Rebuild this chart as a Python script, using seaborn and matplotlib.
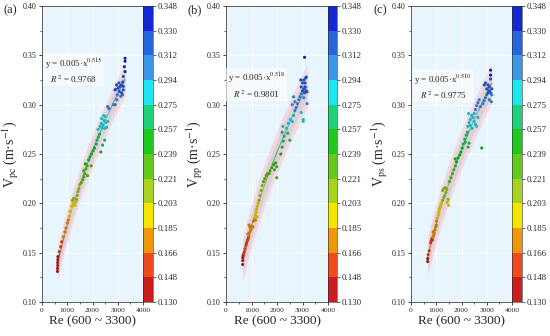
import numpy as np
import matplotlib
matplotlib.use("Agg")
import matplotlib.pyplot as plt
import seaborn as sns
from matplotlib.colors import ListedColormap, BoundaryNorm
from matplotlib.collections import LineCollection
from matplotlib.cm import ScalarMappable
from matplotlib.ticker import MultipleLocator

# ---- data ----
a_re = [610, 615, 620, 620, 625, 630, 685, 740, 780, 845, 910, 950, 1003, 1040, 1083, 1109,
        1180, 1220, 1260, 1200, 1300, 1250, 1340, 1370,
        1400, 1430, 1460, 1500, 1560, 1620, 1660, 1700, 1650, 1740, 1790, 1720, 1850, 1900, 1960, 2020,
        2080, 2150, 2180, 2230, 2280, 2400, 2480, 2330, 1800, 1950,
        2220, 2300, 2350, 2420, 2460, 2520, 2360, 2440, 2500, 2560, 2600, 2380, 2480,
        2600, 2650, 2900, 2830, 2960, 3120, 2980, 3190, 3060, 3150, 2890, 2930, 3020, 3090, 3220, 3150,
        3220, 3220, 3290, 3260, 3290, 3290, 3050, 3200, 2950]
a_v = [0.131, 0.134, 0.137, 0.140, 0.143, 0.146, 0.151, 0.156, 0.161, 0.166, 0.171, 0.175, 0.180, 0.183,
       0.187, 0.192,
       0.197, 0.199, 0.202, 0.203, 0.198, 0.205, 0.201, 0.204,
       0.208, 0.212, 0.215, 0.219, 0.221, 0.224, 0.227, 0.230, 0.233, 0.235, 0.238, 0.240, 0.244, 0.247,
       0.250, 0.253, 0.256, 0.260, 0.264, 0.267, 0.270, 0.259, 0.264, 0.252, 0.228, 0.238,
       0.275, 0.278, 0.281, 0.279, 0.284, 0.282, 0.286, 0.289, 0.288, 0.277, 0.283, 0.276, 0.276,
       0.298, 0.296, 0.300, 0.300, 0.305, 0.3085, 0.310, 0.310, 0.3135, 0.312, 0.315, 0.3155, 0.317, 0.3185,
       0.3185, 0.320, 0.315, 0.3285, 0.3335, 0.3385, 0.344, 0.347, 0.322, 0.323, 0.320]

b_re = [650, 655, 660, 670, 690, 720, 750, 780, 800, 820, 850, 880, 900, 860, 920, 950, 980, 940, 1000, 1050,
        900, 1080, 1120, 1150, 1180, 1200, 1230, 1260, 1300, 1150, 1220, 1330, 1380, 1420, 1470, 1520, 1580,
        1620, 1700, 1730, 1800, 1870, 1950, 1990, 1900, 1990, 2150, 2200, 2250, 2280, 2200, 2230, 2500, 2420,
        2380, 2450, 2520, 2600, 2650, 2700, 2750, 2600, 2700, 2650, 2800, 2850, 2900, 2950, 3000, 3050, 3100,
        2950, 3000, 2930, 3050, 3120, 3150, 3080, 3150, 3180, 3180, 3050, 3030, 3030, 2950, 3080, 3100]
b_v = [0.138, 0.142, 0.145, 0.147, 0.149, 0.151, 0.154, 0.157, 0.159, 0.161, 0.163, 0.165, 0.167, 0.169,
       0.170, 0.172, 0.174, 0.176, 0.177, 0.176, 0.178, 0.182, 0.185, 0.188, 0.191, 0.194, 0.197, 0.200, 0.203,
       0.183, 0.186, 0.208, 0.213, 0.218, 0.222, 0.225, 0.228, 0.230, 0.230, 0.233, 0.236, 0.239, 0.241, 0.237,
       0.234, 0.226, 0.250, 0.257, 0.263, 0.268, 0.272, 0.278, 0.264, 0.271, 0.276, 0.281, 0.285, 0.283, 0.289,
       0.294, 0.297, 0.300, 0.303, 0.308, 0.301, 0.305, 0.308, 0.311, 0.314, 0.316, 0.318, 0.318, 0.322, 0.325,
       0.325, 0.327, 0.328, 0.312, 0.314, 0.313, 0.301, 0.307, 0.285, 0.283, 0.292, 0.348, 0.322]

c_re = [660, 660, 680, 720, 780, 800, 820, 850, 870, 900, 880, 920, 950, 980, 1000, 1010, 1040, 1080, 1100,
        1120, 1150, 1180, 1210, 1250, 1300, 1340, 1380, 1420, 1360, 1440, 1490, 1470, 1300, 1250, 1520, 1580,
        1640, 1700, 1760, 1800, 1860, 1930, 1980, 2030, 2070, 2130, 2190, 2240, 2150, 2300, 2260, 2800, 1750,
        2250, 2300, 2350, 2400, 2450, 2500, 2550, 2600, 2350, 2500, 2650, 2280, 2420, 2550, 2600, 2650, 2700,
        2750, 2850, 2900, 2950, 3000, 3050, 3100, 3150, 3200, 3000, 3050, 3100, 2950, 3150, 2900, 3180, 3100,
        3150, 3150, 3200]
c_v = [0.141, 0.144, 0.148, 0.152, 0.160, 0.162, 0.164, 0.163, 0.166, 0.168, 0.171, 0.170, 0.173, 0.176,
       0.178, 0.182, 0.185, 0.188, 0.191, 0.194, 0.196, 0.199, 0.200, 0.203, 0.206, 0.208, 0.211, 0.214, 0.216,
       0.201, 0.198, 0.204, 0.215, 0.213, 0.222, 0.226, 0.230, 0.234, 0.238, 0.242, 0.246, 0.249, 0.252, 0.256,
       0.260, 0.265, 0.269, 0.272, 0.262, 0.261, 0.257, 0.256, 0.245, 0.278, 0.282, 0.285, 0.289, 0.287, 0.283,
       0.280, 0.278, 0.279, 0.291, 0.287, 0.291, 0.276, 0.295, 0.299, 0.302, 0.305, 0.298, 0.301, 0.304, 0.307,
       0.310, 0.312, 0.314, 0.312, 0.310, 0.316, 0.320, 0.318, 0.322, 0.326, 0.320, 0.303, 0.305, 0.335, 0.330,
       0.316]

panel_tags = ["(a)", "(b)", "(c)"]
sub_names = ["pc", "pp", "ps"]
exponents = ["0.515", "0.518", "0.510"]
r2_texts = ["0.9768", "0.9801", "0.9775"]
x_label = "Re (600 ~ 3300)"

cbar_bounds = [0.130, 0.148, 0.166, 0.185, 0.203, 0.221, 0.239, 0.257, 0.275, 0.294, 0.312, 0.330, 0.348]
cbar_labels = ["0.130", "0.148", "0.166", "0.185", "0.203", "0.221", "0.239",
               "0.257", "0.275", "0.294", "0.312", "0.330", "0.348"]
band_colors = ["#c81e1e", "#ee4a1c", "#f0960a", "#f5e600", "#a8d21e", "#64c81e",
               "#1ec81e", "#1ed278", "#1ee6f0", "#3c96e6", "#2864dc", "#1428d2"]
# slightly darker shades used for the dots
dot_colors = ["#a01818", "#c23c16", "#c87808", "#c8b400", "#86a818", "#50a018",
              "#18a018", "#18a860", "#18b8c0", "#3078c0", "#2050b8", "#1020b0"]

# ---- style ----
sns.set_style("ticks")
plt.rcParams["font.family"] = ["Liberation Serif", "DejaVu Serif"]
plt.rcParams["mathtext.fontset"] = "stix"

cmap = ListedColormap(band_colors)
dot_cmap = ListedColormap(dot_colors)
norm = BoundaryNorm(cbar_bounds, cmap.N)

W, H = 550, 336
fig = plt.figure(figsize=(W / 100, H / 100), dpi=100)

# pixel boxes: axes left, axes width, colorbar width
boxes = [(42, 101, 10), (226, 102, 9), (411, 101, 10)]
bottom, height = 34 / H, 296 / H
text_pos = [(1250, 0.3345), (1205, 0.3195), (1285, 0.318)]

datasets = [(a_re, a_v), (b_re, b_v), (c_re, c_v)]

for i, (re, v) in enumerate(datasets):
    left, w, cw = boxes[i]
    ax = fig.add_axes([left / W, bottom, w / W, height])
    cax = fig.add_axes([(left + w) / W, bottom, cw / W, height])
    ax.set_facecolor("#e9f5fc")
    ax.grid(True, color="white", lw=0.6)
    ax.set_axisbelow(True)

    re = np.array(re, dtype=float)
    v = np.array(v, dtype=float)

    # power-law fit in log space
    b, a = np.polyfit(np.log(re), np.log(v), 1)
    xs = np.linspace(re.min(), re.max(), 200)
    ys = np.exp(a) * xs ** b
    s = np.std(v - np.exp(a) * re ** b)
    ax.fill_between(xs, ys - 2.4 * s, ys + 2.4 * s, color="#f6cfdc", alpha=0.7, lw=0, zorder=1)
    ax.fill_between(xs, ys - 1.4 * s, ys + 1.4 * s, color="#c9c9c9", alpha=0.55, lw=0, zorder=2)

    pts = np.column_stack([xs, ys]).reshape(-1, 1, 2)
    segs = np.concatenate([pts[:-1], pts[1:]], axis=1)
    lc = LineCollection(segs, cmap=dot_cmap, norm=norm, lw=0.7, alpha=0.8, zorder=3)
    lc.set_array(ys[:-1])
    ax.add_collection(lc)

    sns.scatterplot(x=re, y=v, hue=v, palette=dot_cmap, hue_norm=norm, s=5,
                    edgecolor="none", linewidth=0, legend=False, ax=ax, zorder=4)

    ax.set_xlim(0, 4000)
    ax.set_ylim(0.10, 0.40)
    ax.xaxis.set_major_locator(MultipleLocator(1000))
    ax.xaxis.set_minor_locator(MultipleLocator(500))
    ax.yaxis.set_major_locator(MultipleLocator(0.05))
    ax.yaxis.set_minor_locator(MultipleLocator(0.025))
    ax.yaxis.set_major_formatter(plt.FuncFormatter(lambda t, p: f"{t:.2f}"))
    ax.tick_params(which="major", length=2.5, width=0.6, labelsize=5.8, pad=1.5)
    ax.tick_params(axis="x", labelsize=5.4)
    ax.tick_params(which="minor", length=1.5, width=0.5)
    for sp in ax.spines.values():
        sp.set_linewidth(0.6)
        sp.set_color("#444444")

    ax.set_xlabel(x_label, fontsize=9.5, labelpad=2)
    ax.set_ylabel(r"V$_{\rm " + sub_names[i] + r"}$ (m·s$^{-1}$)", fontsize=10, labelpad=1)

    tx, ty = text_pos[i]
    ax.text(tx, ty, r"y = 0.005·x$^{" + exponents[i] + r"}$" + "\n" + r"$R^{\,2}$ = " + r2_texts[i],
            fontsize=6.5, ha="center", va="center", multialignment="center", linespacing=1.3,
            bbox=dict(facecolor="white", alpha=0.6, edgecolor="none", pad=1), zorder=5)

    sm = ScalarMappable(norm=norm, cmap=cmap)
    cb = fig.colorbar(sm, cax=cax, ticks=cbar_bounds)
    cb.ax.set_yticklabels(cbar_labels)
    cb.ax.tick_params(labelsize=6.3, length=2, width=0.5, pad=1.5)
    cb.outline.set_linewidth(0.4)

    fig.text((left - 38) / W, 1 - 10 / H, panel_tags[i], fontsize=9, va="center", ha="left")

fig.savefig("out.png", dpi=100)
